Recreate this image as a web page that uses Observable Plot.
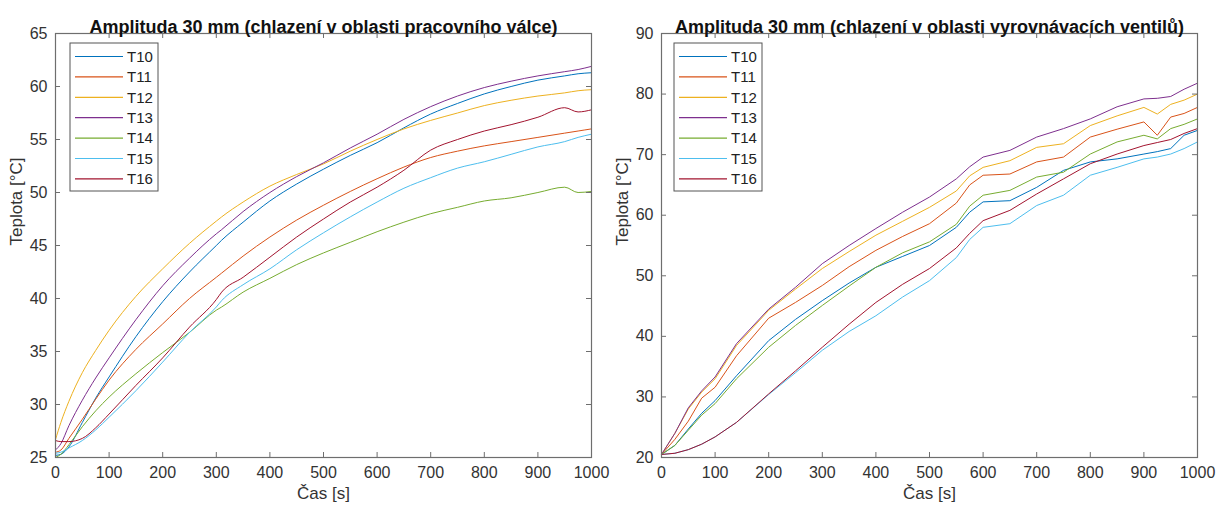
<!DOCTYPE html>
<html><head><meta charset="utf-8">
<script src="https://cdn.jsdelivr.net/npm/d3@7"></script>
<script src="https://cdn.jsdelivr.net/npm/@observablehq/plot@0.6"></script>
<style>
body{margin:0;background:#fff}
#wrap{display:flex;width:1220px;height:510px;overflow:hidden}
</style>
</head><body><div id="wrap"></div>
<script>
// ---- data ----
const seriesNames = ["T10","T11","T12","T13","T14","T15","T16"];
const seriesColors = ["#0072BD","#D95319","#EDB120","#7E2F8E","#77AC30","#4DBEEE","#A2142F"];
const leftTitle = "Amplituda 30 mm (chlazení v oblasti pracovního válce)";
const rightTitle = "Amplituda 30 mm (chlazení v oblasti vyrovnávacích ventilů)";
const xLabel = "Čas [s]";
const yLabel = "Teplota [°C]";
const xTicks = [0,100,200,300,400,500,600,700,800,900,1000];
const leftYTicks = [25,30,35,40,45,50,55,60,65];
const rightYTicks = [20,30,40,50,60,70,80,90];

// left panel
const leftTime = [0,10,25,50,75,100,150,200,250,300,310,350,400,450,500,550,600,650,700,750,800,850,900,950,975,1000];
const leftT10 = [25.2,25.3,26.0,28.3,30.6,32.6,36.4,39.7,42.5,45.0,45.5,47.2,49.2,50.8,52.2,53.5,54.7,56.1,57.4,58.4,59.3,60.0,60.6,61.0,61.2,61.3];
const leftT11 = [25.5,25.7,26.8,28.6,30.5,32.3,35.2,37.6,40.0,42.0,42.4,44.0,45.8,47.4,48.8,50.1,51.3,52.4,53.3,53.9,54.4,54.8,55.2,55.6,55.8,56.0];
const leftT12 = [26.7,28.3,30.3,33.0,35.1,37.0,40.2,42.8,45.2,47.3,47.7,49.1,50.6,51.7,52.7,53.9,55.0,56.0,56.8,57.5,58.2,58.7,59.1,59.4,59.6,59.7];
const leftT13 = [25.7,26.3,28.0,30.4,32.5,34.4,38.0,41.2,43.8,46.1,46.5,48.2,50.0,51.5,52.8,54.2,55.5,56.9,58.1,59.1,59.9,60.5,61.0,61.4,61.6,61.9];
const leftT14 = [25.0,25.3,26.2,27.9,29.4,30.7,32.9,34.9,36.8,38.9,39.2,40.6,41.9,43.2,44.3,45.3,46.3,47.2,48.0,48.6,49.2,49.5,50.0,50.5,50.0,50.1];
const leftT15 = [25.4,25.5,25.9,26.6,27.6,28.8,31.3,34.0,36.8,39.2,39.8,41.3,42.8,44.6,46.2,47.7,49.1,50.4,51.4,52.3,52.9,53.6,54.3,54.8,55.2,55.5];
const leftT16 = [26.6,26.5,26.5,26.8,27.8,29.1,31.8,34.4,37.3,39.9,40.6,42.0,43.9,45.8,47.5,49.1,50.5,52.1,54.0,55.0,55.8,56.4,57.1,58.0,57.6,57.8];

// right panel
const rightTime = [0,25,50,75,100,140,200,250,300,350,400,450,500,550,575,600,650,700,750,800,850,900,925,950,975,1000];
const rightT10 = [20.5,22.0,24.7,27.3,29.4,33.5,39.3,42.8,45.9,48.8,51.4,53.2,55.0,58.0,60.5,62.2,62.4,64.6,67.4,68.8,69.3,70.1,70.5,71.0,73.2,74.0];
const rightT11 = [20.5,23.0,26.0,29.8,31.6,36.8,43.0,45.6,48.4,51.5,54.2,56.5,58.6,62.0,65.0,66.6,66.8,68.8,69.6,72.9,74.2,75.4,73.2,76.2,76.8,77.8];
const rightT12 = [20.5,24.0,28.0,30.8,33.0,38.5,44.3,47.8,51.2,54.0,56.7,59.0,61.3,64.0,66.5,67.9,69.0,71.2,71.8,74.8,76.4,77.8,76.7,78.3,79.0,80.0];
const rightT13 = [20.5,24.0,28.2,31.0,33.3,38.8,44.5,48.1,52.0,55.0,57.8,60.5,63.0,66.0,68.0,69.6,70.7,72.9,74.3,75.9,77.9,79.2,79.3,79.6,80.8,81.8];
const rightT14 = [20.5,22.0,24.5,27.0,28.9,33.0,38.2,41.8,45.1,48.3,51.4,53.8,55.6,58.5,61.5,63.3,64.1,66.3,67.1,70.1,72.1,73.2,72.6,74.3,75.0,75.9];
const rightT15 = [20.5,20.7,21.3,22.2,23.4,25.8,30.4,34.0,37.7,40.8,43.4,46.5,49.2,53.0,56.0,58.0,58.6,61.6,63.3,66.6,67.9,69.3,69.6,70.1,71.0,72.1];
const rightT16 = [20.5,20.7,21.3,22.2,23.4,25.8,30.5,34.3,38.2,42.0,45.6,48.6,51.2,54.6,57.0,59.1,60.8,63.5,66.0,68.5,70.1,71.5,72.0,72.5,73.5,74.3];

// ---- build ----
function tidy(time, values) {
  return seriesNames.flatMap((s, k) => time.map((t, i) => ({s, t, v: values[k][i]})));
}

const FONT = "'Liberation Sans', Arial, Helvetica, sans-serif";
const AXIS = "#6e6e6e";

function panel({title, data, yDomain, yTicks, marginLeft, marginRight, legendDx, curve}) {
  const W = 610, H = 510, mt = 33, mb = 53;
  const iw = W - marginLeft - marginRight, ih = H - mt - mb;
  const svg = Plot.plot({
    width: W, height: H, marginLeft, marginRight, marginTop: mt, marginBottom: mb,
    style: {fontFamily: FONT, fontSize: "16px", color: "#333", background: "#fff"},
    x: {domain: [0, 1000], ticks: xTicks, tickSize: 0, tickPadding: 9, label: null, tickFormat: d => String(d)},
    y: {domain: yDomain, ticks: yTicks, tickSize: 0, tickPadding: 8, label: null, tickFormat: d => String(d)},
    color: {domain: seriesNames, range: seriesColors},
    marks: [
      Plot.line(data, {x: "t", y: "v", z: "s", stroke: "s", strokeWidth: 1, curve}),
      Plot.ruleX(xTicks, {x: d => d, insetTop: ih - 5, stroke: AXIS}),
      Plot.ruleX(xTicks, {x: d => d, insetBottom: ih - 5, stroke: AXIS}),
      Plot.ruleY(yTicks, {y: d => d, insetRight: iw - 5, stroke: AXIS}),
      Plot.ruleY(yTicks, {y: d => d, insetLeft: iw - 5, stroke: AXIS}),
      Plot.frame({stroke: AXIS, strokeWidth: 1.2}),
      Plot.text([title], {text: d => d, frameAnchor: "top", dy: -13, fontWeight: "bold", fontSize: 18, fill: "#111"}),
      Plot.text([xLabel], {text: d => d, frameAnchor: "bottom", dy: 41, fontSize: 17}),
      Plot.text([yLabel], {text: d => d, frameAnchor: "left", dx: -39, rotate: -90, fontSize: 17})
    ]
  });
  // legend (box in pixel space, entries from the series arrays)
  const g = d3.select(svg).append("g")
    .attr("transform", `translate(${marginLeft + legendDx},${mt + 10})`)
    .attr("font-family", FONT).attr("font-size", 15).attr("fill", "#222")
    .attr("text-anchor", "start");
  g.append("rect").attr("width", 88).attr("height", 148)
    .attr("fill", "#fff").attr("stroke", "#555").attr("stroke-width", 1);
  seriesNames.forEach((name, i) => {
    const y = 13.5 + i * 20.4;
    g.append("line").attr("x1", 5).attr("x2", 53).attr("y1", y).attr("y2", y)
      .attr("stroke", seriesColors[i]).attr("stroke-width", 1.2);
    g.append("text").attr("x", 57).attr("y", y).attr("dy", "0.35em")
      .attr("text-anchor", "start").text(name);
  });
  return svg;
}

const wrap = document.getElementById("wrap");
wrap.appendChild(panel({
  title: leftTitle,
  data: tidy(leftTime, [leftT10, leftT11, leftT12, leftT13, leftT14, leftT15, leftT16]),
  yDomain: [25, 65], yTicks: leftYTicks, marginLeft: 55, marginRight: 19, legendDx: 15, curve: "monotone-x"
}));
wrap.appendChild(panel({
  title: rightTitle,
  data: tidy(rightTime, [rightT10, rightT11, rightT12, rightT13, rightT14, rightT15, rightT16]),
  yDomain: [20, 90], yTicks: rightYTicks, marginLeft: 51, marginRight: 23, legendDx: 13, curve: "linear"
}));
</script>
</body></html>
